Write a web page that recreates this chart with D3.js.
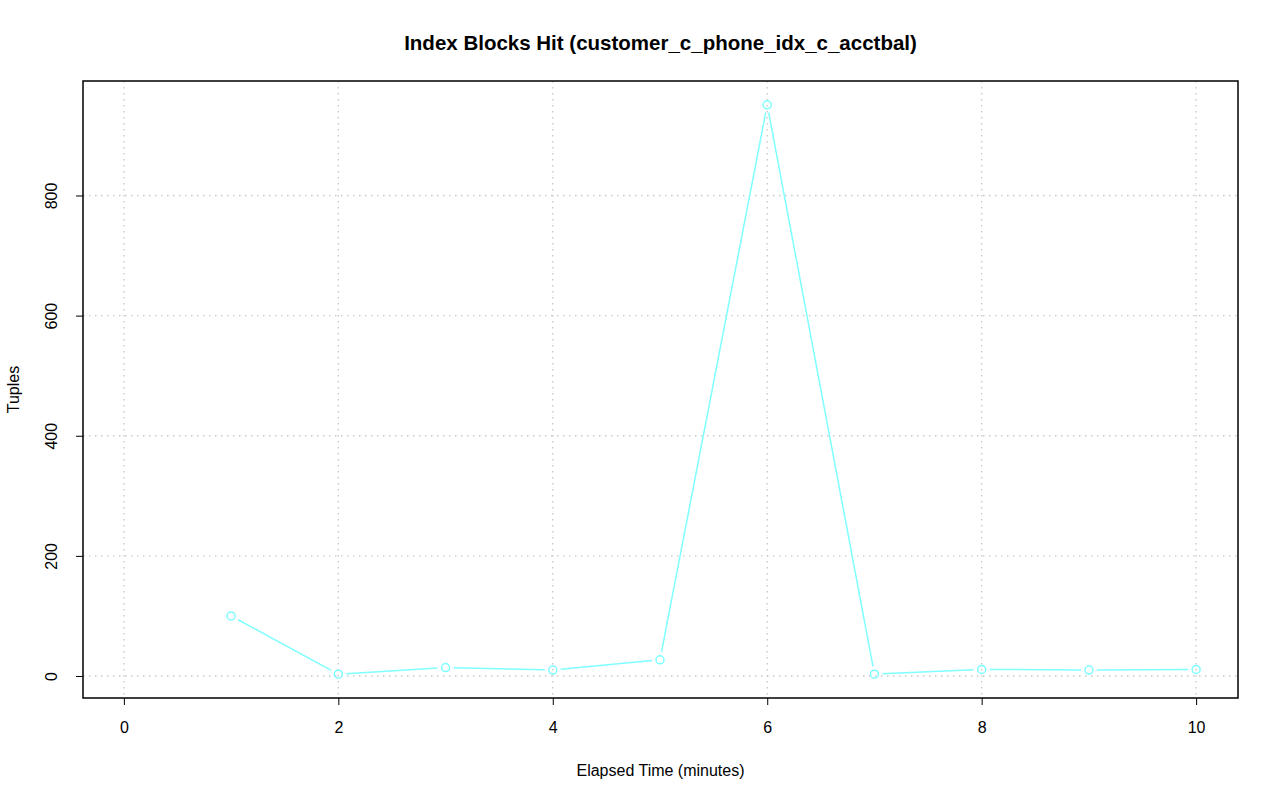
<!DOCTYPE html>
<html>
<head>
<meta charset="utf-8">
<script src="https://cdn.jsdelivr.net/npm/d3@7"></script>
<style>
  body { margin: 0; background: #fff; }
  svg text { font-family: "Liberation Sans", Arial, sans-serif; fill: #000; }
</style>
</head>
<body>
<svg id="chart" width="1280" height="801"></svg>
<script>
// data
const minutes = [1, 2, 3, 4, 5, 6, 7, 8, 9, 10];
const tuples = [100, 3, 14, 10, 27, 951, 3, 11, 10, 11];
const xTicks = [0, 2, 4, 6, 8, 10];
const yTicks = [0, 200, 400, 600, 800];

const svg = d3.select("#chart");
const box = { left: 83, right: 1238, top: 81, bottom: 698 };
const lineColor = "#7fffff";

// R style: 4% padding around the data range
const x = d3.scaleLinear().domain([-0.4, 10.4]).range([box.left - 2, box.right + 1]);
const yLo = 3 - 0.04 * 948, yHi = 951 + 0.04 * 948;
const y = d3.scaleLinear().domain([yLo, yHi]).range([box.bottom - 1, box.top + 1]);

// dotted grid
const grid = svg.append("g").attr("stroke", "#c8c8c8").attr("stroke-dasharray", "1.5,4.5").attr("stroke-width", 1.3);
grid.selectAll("line.v").data(xTicks).join("line")
  .attr("x1", d => x(d)).attr("x2", d => x(d))
  .attr("y1", box.top).attr("y2", box.bottom);
grid.selectAll("line.h").data(yTicks).join("line")
  .attr("y1", d => y(d)).attr("y2", d => y(d))
  .attr("x1", box.left).attr("x2", box.right);

// axes
const xAxis = svg.append("g")
  .attr("transform", `translate(0,${box.bottom})`)
  .call(d3.axisBottom(x).tickValues(xTicks).tickSize(7).tickPadding(17).tickFormat(d3.format("d")));
const yAxis = svg.append("g")
  .attr("transform", `translate(${box.left},0)`)
  .call(d3.axisLeft(y).tickValues(yTicks).tickSize(7).tickFormat(d3.format("d")));
[xAxis, yAxis].forEach(a => {
  a.select(".domain").remove();
  a.selectAll("line").attr("stroke", "#000").attr("stroke-width", 1);
  a.selectAll("text").attr("font-size", 16).attr("font-family", "Liberation Sans, Arial, sans-serif");
});
yAxis.selectAll(".tick text")
  .attr("text-anchor", "middle")
  .attr("x", 0).attr("dy", 0)
  .attr("transform", "translate(-26,0) rotate(-90)");

// plot frame
svg.append("rect")
  .attr("x", box.left).attr("y", box.top)
  .attr("width", box.right - box.left).attr("height", box.bottom - box.top)
  .attr("fill", "none").attr("stroke", "#000").attr("stroke-width", 1.5);

// line with gaps around points (type = "b")
const pts = minutes.map((m, i) => [x(m), y(tuples[i])]);
const gap = 8;
const segs = d3.pairs(pts).map(([a, b]) => {
  const dx = b[0] - a[0], dy = b[1] - a[1];
  const len = Math.hypot(dx, dy);
  const ux = dx / len, uy = dy / len;
  return [a[0] + ux * gap, a[1] + uy * gap, b[0] - ux * gap, b[1] - uy * gap];
});
svg.append("g").selectAll("line").data(segs).join("line")
  .attr("x1", d => d[0]).attr("y1", d => d[1])
  .attr("x2", d => d[2]).attr("y2", d => d[3])
  .attr("stroke", lineColor).attr("stroke-width", 1.5);

svg.append("g").selectAll("circle").data(pts).join("circle")
  .attr("cx", d => d[0]).attr("cy", d => d[1]).attr("r", 4)
  .attr("fill", "none").attr("stroke", lineColor).attr("stroke-width", 1.5);

// titles
svg.append("text")
  .attr("x", (box.left + box.right) / 2).attr("y", 50)
  .attr("text-anchor", "middle").attr("font-size", 20.5).attr("font-weight", "bold")
  .text("Index Blocks Hit (customer_c_phone_idx_c_acctbal)");
svg.append("text")
  .attr("x", (box.left + box.right) / 2).attr("y", 776)
  .attr("text-anchor", "middle").attr("font-size", 16)
  .text("Elapsed Time (minutes)");
svg.append("text")
  .attr("transform", `translate(19,${(box.top + box.bottom) / 2}) rotate(-90)`)
  .attr("text-anchor", "middle").attr("font-size", 16)
  .text("Tuples");
</script>
</body>
</html>
